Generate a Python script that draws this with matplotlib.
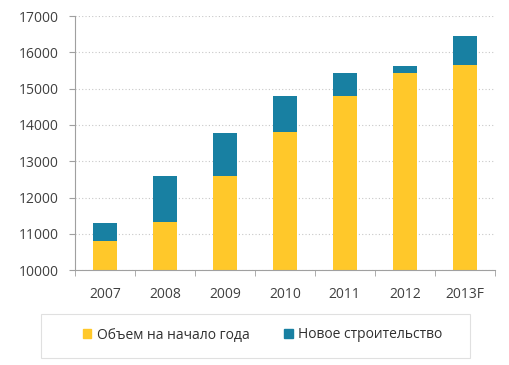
import matplotlib.pyplot as plt
from matplotlib.patches import Rectangle, Patch

# Data
years = ["2007", "2008", "2009", "2010", "2011", "2012", "2013F"]
start_volume = [10800, 11320, 12590, 13800, 14800, 15440, 15640]
new_build = [500, 1260, 1200, 1000, 640, 190, 820]
labels = ["Объем на начало года", "Новое строительство"]

yellow = "#FFC82A"
teal = "#1880A2"

plt.rcParams['font.family'] = ['Open Sans', 'DejaVu Sans']

fig = plt.figure(figsize=(5.1, 3.65), dpi=100)
ax = fig.add_axes([0.147, 0.26, 0.823, 0.696])

x = list(range(len(years)))
ax.bar(x, [v - 10000 for v in start_volume], bottom=10000, width=0.4, color=yellow)
ax.bar(x, new_build, bottom=start_volume, width=0.4, color=teal)

ax.set_ylim(10000, 17000)
ax.set_xlim(-0.5, len(years) - 0.5)
ax.set_yticks(range(10000, 17001, 1000))
ax.yaxis.grid(True, linestyle=(0, (1, 2)), color="#c8c8c8", linewidth=0.8)
ax.set_axisbelow(True)

ax.set_xticks(x)
ax.set_xticklabels(years)
ax.set_xticks([i - 0.5 for i in range(len(years) + 1)], minor=True)
ax.tick_params(axis="x", which="major", length=0, pad=12, labelsize=10, colors="#404040")
ax.tick_params(axis="x", which="minor", length=4, color="#a0a0a0", direction="out")
ax.tick_params(axis="y", length=4, direction="out", labelsize=10,
               colors="#404040", pad=8)
ax.tick_params(axis="y", color="#a0a0a0")

for side in ["top", "right"]:
    ax.spines[side].set_visible(False)
for side in ["left", "bottom"]:
    ax.spines[side].set_color("#a0a0a0")

# legend box at the bottom
fig.patches.append(Rectangle((41 / 510, 7 / 365), 429 / 510, 44 / 365,
                             transform=fig.transFigure, fill=False,
                             edgecolor="#e0e0e0", linewidth=0.8))
handles = [Patch(color=yellow), Patch(color=teal)]
fig.legend(handles, labels, loc="upper center", bbox_to_anchor=(0.515, 50 / 365),
           ncol=2, frameon=False, fontsize=10, handlelength=0.6, handleheight=0.6,
           handletextpad=0.4, columnspacing=2.5, labelcolor="#303030")

fig.savefig("out.png", dpi=100)
